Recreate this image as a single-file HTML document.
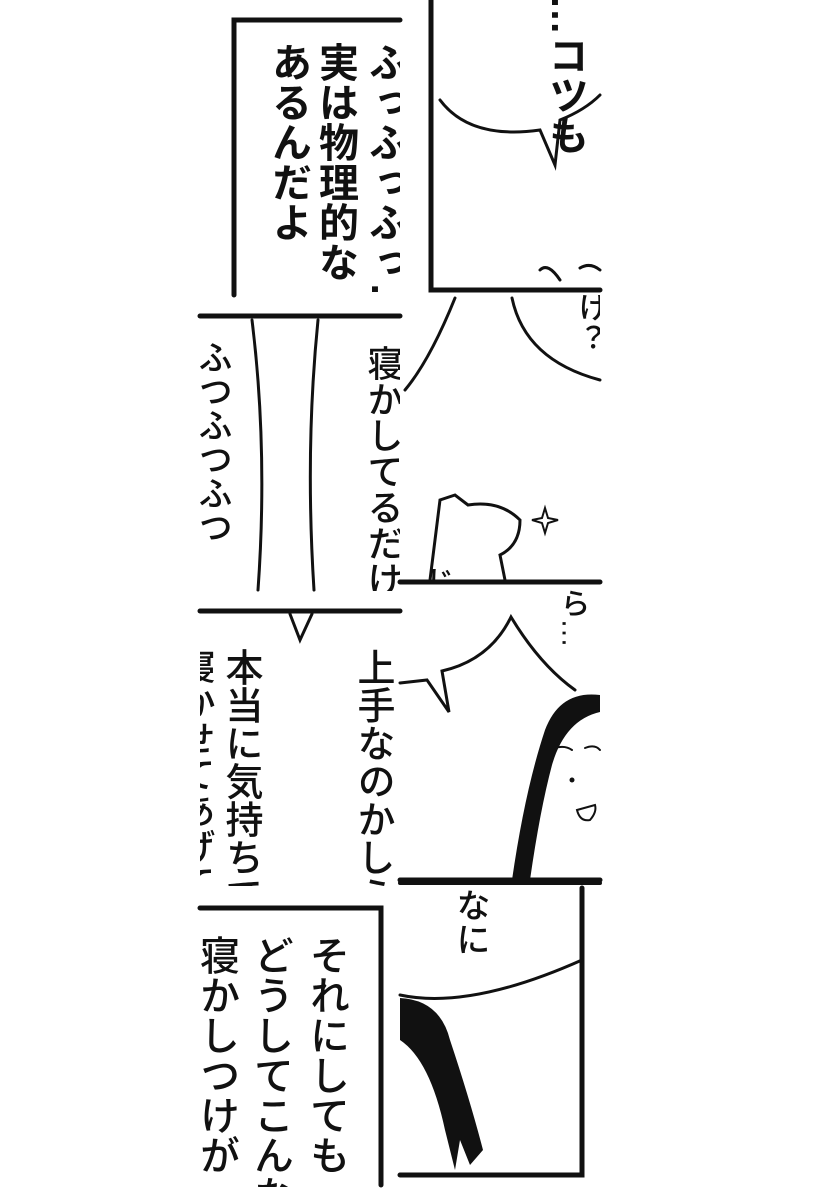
<!DOCTYPE html>
<html><head><meta charset="utf-8"><style>
html,body{margin:0;padding:0;background:#fff;}
svg{display:block}
.t{font-family:"Liberation Sans","Noto Sans CJK JP",sans-serif;writing-mode:tb;glyph-orientation-vertical:0;fill:#111;font-weight:500}
.b{font-weight:bold}
</style></head><body>
<svg width="820" height="1200" viewBox="0 0 820 1200" xmlns="http://www.w3.org/2000/svg">
<defs>
<clipPath id="c1"><rect x="236" y="23" width="164" height="272"/></clipPath>
<clipPath id="c2"><rect x="434" y="0" width="166" height="288"/></clipPath>
<clipPath id="c3"><rect x="200" y="319" width="200" height="272"/></clipPath>
<clipPath id="c4"><rect x="400" y="292" width="200" height="288"/></clipPath>
<clipPath id="c5"><rect x="200" y="614" width="200" height="272"/></clipPath>
<clipPath id="c6"><rect x="200" y="911" width="178" height="276"/></clipPath>
<clipPath id="c7"><rect x="400" y="886" width="180" height="287"/></clipPath>
<clipPath id="c8"><rect x="400" y="585" width="200" height="293"/></clipPath>
</defs>
<rect width="820" height="1200" fill="#fff"/>
<g stroke="#111" fill="none" stroke-linecap="round">
<path d="M400 20 H234 V295" stroke-width="5"/>
<path d="M431 0 V290 H600" stroke-width="5"/>
<path d="M440 100 Q470 140 540 130 L555 165 L560 120 Q585 110 600 95" stroke-width="3"/>
<path d="M540 270 Q548 262 560 280 M580 268 Q590 262 600 270" stroke-width="3"/>
<path d="M200 316 H400" stroke-width="5"/>
<path d="M252 320 Q268 450 258 590 M318 320 Q305 450 314 590" stroke-width="3"/>
<path d="M455 298 Q430 360 405 390 M512 298 Q525 360 600 380" stroke-width="3"/>
<path d="M430 580 L440 500 L455 495 L468 505 Q500 500 520 520 Q520 545 500 555 L505 580" stroke-width="3"/>
<path d="M400 582 H600" stroke-width="5"/>
<path d="M200 611 H400" stroke-width="5"/>
<path d="M290 614 L300 640 L312 614" stroke-width="3"/>
<path d="M400 683 L427 680 L449 712 L442 671 Q490 660 511 617 Q540 665 575 690" stroke-width="3"/>
<path d="M400 880 H600" stroke-width="5"/>
<path d="M555 748 Q565 745 572 750 M585 748 Q595 744 600 750" stroke-width="2"/>
<path d="M577 810 Q580 822 590 820 Q597 812 595 805 Z" stroke-width="2"/>
<path d="M200 908 H381 V1185" stroke-width="5"/>
<path d="M400 883 H600" stroke-width="4"/>
<path d="M582 888 V1175 H400" stroke-width="5"/>
<path d="M400 995 Q470 1010 582 960" stroke-width="3"/>
</g>
<circle cx="572" cy="780" r="2.5" fill="#111"/>
<path d="M600 695 Q560 690 545 730 Q525 790 512 880 L530 880 Q540 810 552 765 Q565 720 600 712 Z" fill="#111"/>
<path d="M400 998 Q440 1000 450 1040 Q470 1100 483 1150 L470 1165 L460 1140 L455 1170 L445 1130 Q430 1060 400 1040 Z" fill="#111"/>
<path d="M545 508 L548 518 L558 520 L548 523 L545 533 L542 523 L532 520 L542 518 Z" fill="none" stroke="#111" stroke-width="2"/>
<g clip-path="url(#c1)">
<text class="t" x="385" y="42" font-size="40" style="font-weight:bold">ふっふっふっ…</text>
<text class="t" x="335" y="42" font-size="40" style="font-weight:bold">実は物理的な「</text>
<text class="t" x="288" y="42" font-size="40" style="font-weight:bold">あるんだよ</text>
</g>
<g clip-path="url(#c2)"><text class="t" x="565" y="-5" font-size="40" style="font-weight:bold">…コツも</text></g>
<g clip-path="url(#c4)">
<text class="t" x="590" y="292" font-size="30">け？</text>
<text class="t" x="437" y="566" font-size="30">じ</text>
</g>
<g clip-path="url(#c3)">
<text class="t" x="383" y="345" font-size="36">寝かしてるだけ</text>
<text class="t" x="212" y="340" font-size="34">ふつふつふつ</text>
</g>
<g clip-path="url(#c8)"><text class="t" x="572" y="588" font-size="30">ら…</text></g>
<g clip-path="url(#c5)">
<text class="t" x="372" y="648" font-size="38">上手なのかしら</text>
<text class="t" x="240" y="648" font-size="38">本当に気持ちで</text>
<text class="t" x="195" y="648" font-size="36">寝かせてあげて</text>
</g>
<g clip-path="url(#c6)">
<text class="t" x="326" y="935" font-size="40">それにしても</text>
<text class="t" x="270" y="935" font-size="40">どうしてこんな</text>
<text class="t" x="216" y="935" font-size="40">寝かしつけが</text>
</g>
<g clip-path="url(#c7)"><text class="t" x="470" y="888" font-size="34">なに</text></g>
</svg>
</body></html>
